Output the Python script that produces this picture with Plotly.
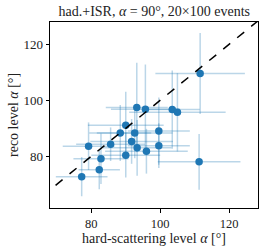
import plotly.graph_objects as go

# data
hard_level = [77.2, 79.2, 82.3, 82.8, 85.6, 88.4, 90.0, 90.0, 91.7, 92.6,
              93.2, 93.3, 95.7, 96.0, 99.6, 99.6, 103.5, 105.0, 111.6, 111.3]
reco_level = [72.7, 83.6, 75.2, 79.1, 84.3, 88.3, 91.1, 80.4, 85.3, 88.3,
              97.4, 83.0, 96.8, 81.8, 89.0, 83.8, 96.7, 95.7, 109.6, 78.0]
hard_err = [7.5, 7.5, 6, 8, 10, 9, 11, 10, 12, 11,
            9, 10, 10, 12, 9, 9, 8, 14, 13, 12]
reco_err = [7, 8.5, 7, 9, 6, 10, 12, 8, 8, 9,
            16, 10, 16, 8, 12, 8, 14, 14, 14.5, 10]
x_range = [68, 128.4]
y_range = [61.5, 128]
ticks = [80, 100, 120]

blue = "#1f77b4"
font_family = "Liberation Serif, DejaVu Serif, serif"

fig = go.Figure()
fig.add_trace(go.Scatter(
    x=hard_level, y=reco_level, mode="markers",
    marker=dict(color=blue, size=7.5, line=dict(width=0)),
    error_x=dict(type="data", array=hard_err, visible=True,
                 color="rgba(31,119,180,0.3)", thickness=1.5, width=0),
    error_y=dict(type="data", array=reco_err, visible=True,
                 color="rgba(31,119,180,0.3)", thickness=1.5, width=0),
    showlegend=False,
))

lo = min(x_range[0], y_range[0])
hi = max(x_range[1], y_range[1])
fig.add_trace(go.Scatter(
    x=[lo, hi], y=[lo, hi], mode="lines",
    line=dict(color="black", dash="dash", width=1.5),
    showlegend=False, hoverinfo="skip",
))

axis_common = dict(
    showgrid=False, zeroline=False, showline=True, linecolor="black",
    linewidth=1, mirror=True, ticks="outside", ticklen=3.5, tickwidth=1,
    tickcolor="black", tickvals=ticks,
)
fig.update_xaxes(range=x_range, tickfont=dict(size=12.5, color="#222"),
                 **axis_common)
fig.update_yaxes(range=y_range, tickfont=dict(size=13, color="#222"),
                 **axis_common)

fig.add_annotation(text="hard-scattering level <i>α</i> [°]", xref="paper",
                   yref="paper", x=0.5, y=0, yanchor="middle", yshift=-30,
                   showarrow=False, font=dict(size=14, color="#222"))
fig.add_annotation(text="reco level <i>α</i> [°]", xref="paper",
                   yref="paper", x=0, y=0.5, xanchor="center", xshift=-37,
                   textangle=-90, showarrow=False,
                   font=dict(size=14, color="#222"))

fig.update_layout(
    width=266, height=250,
    margin=dict(l=50, r=8, t=22, b=42),
    plot_bgcolor="white", paper_bgcolor="white",
    font=dict(family=font_family, color="#222"),
    title=dict(text="had.+ISR, <i>α</i> = 90°, 20×100 events",
               font=dict(size=14), x=0.58, xanchor="center",
               y=0.955, yanchor="middle"),
)

fig.write_html("out.html",
               config={"displayModeBar": False},
               post_script="document.body.style.margin='0';"
                           "document.body.style.overflow='hidden';")
